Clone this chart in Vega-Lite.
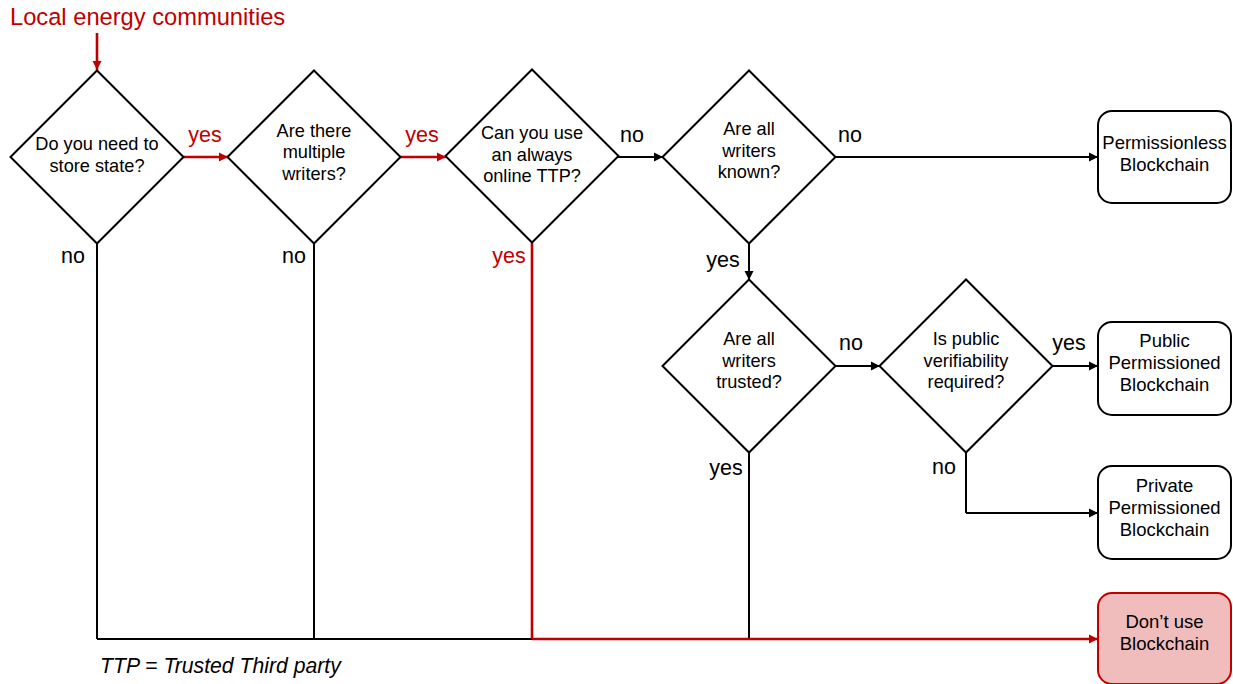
{
  "$schema": "https://vega.github.io/schema/vega-lite/v6.json",
  "width": 1233,
  "height": 684,
  "padding": 0,
  "autosize": {"type": "fit", "contains": "padding"},
  "background": "white",
  "config": {"view": {"stroke": null}, "text": {"font": "Liberation Sans"}},
  "datasets": {
    "edges": [
      {"x": 618, "y": 157, "x2": 663, "y2": 157, "route": "other"},
      {"x": 836, "y": 157, "x2": 1098, "y2": 157, "route": "other"},
      {"x": 749, "y": 243, "x2": 749, "y2": 280, "route": "other"},
      {"x": 835, "y": 366, "x2": 880, "y2": 366, "route": "other"},
      {"x": 1053, "y": 366, "x2": 1098, "y2": 366, "route": "other"},
      {"x": 966, "y": 453, "x2": 966, "y2": 513, "route": "other"},
      {"x": 966, "y": 513, "x2": 1098, "y2": 513, "route": "other"},
      {"x": 97, "y": 243, "x2": 97, "y2": 639, "route": "other"},
      {"x": 314, "y": 243, "x2": 314, "y2": 639, "route": "other"},
      {"x": 749, "y": 453, "x2": 749, "y2": 639, "route": "other"},
      {"x": 97, "y": 639, "x2": 532, "y2": 639, "route": "other"},
      {"x": 97, "y": 33, "x2": 97, "y2": 70, "route": "chosen"},
      {"x": 183, "y": 157, "x2": 228, "y2": 157, "route": "chosen"},
      {"x": 400, "y": 157, "x2": 446, "y2": 157, "route": "chosen"},
      {"x": 532, "y": 243, "x2": 532, "y2": 639, "route": "chosen"},
      {"x": 532, "y": 639, "x2": 1098, "y2": 639, "route": "chosen"}
    ],
    "arrows": [
      {"x": 97, "y": 70, "dir": "down", "route": "chosen"},
      {"x": 228, "y": 157, "dir": "right", "route": "chosen"},
      {"x": 446, "y": 157, "dir": "right", "route": "chosen"},
      {"x": 663, "y": 157, "dir": "right", "route": "other"},
      {"x": 1098, "y": 157, "dir": "right", "route": "other"},
      {"x": 749, "y": 280, "dir": "down", "route": "other"},
      {"x": 880, "y": 366, "dir": "right", "route": "other"},
      {"x": 1098, "y": 366, "dir": "right", "route": "other"},
      {"x": 1098, "y": 513, "dir": "right", "route": "other"},
      {"x": 1098, "y": 639, "dir": "right", "route": "chosen"}
    ],
    "diamonds": [
      {"x": 97, "y": 157, "ty": 145, "q": "Do you need to\nstore state?"},
      {"x": 314, "y": 157, "ty": 131.5, "q": "Are there\nmultiple\nwriters?"},
      {"x": 532, "y": 156, "ty": 134, "q": "Can you use\nan always\nonline TTP?"},
      {"x": 749, "y": 157, "ty": 130, "q": "Are all\nwriters\nknown?"},
      {"x": 749, "y": 366, "ty": 340, "q": "Are all\nwriters\ntrusted?"},
      {"x": 966, "y": 366, "ty": 340, "q": "Is public\nverifiability\nrequired?"}
    ],
    "boxes": [
      {"x": 1098, "x2": 1231, "y": 111, "y2": 203, "ty": 143, "route": "other", "label": "Permissionless\nBlockchain"},
      {"x": 1098, "x2": 1231, "y": 322, "y2": 415, "ty": 341, "route": "other", "label": "Public\nPermissioned\nBlockchain"},
      {"x": 1098, "x2": 1231, "y": 466, "y2": 559, "ty": 486, "route": "other", "label": "Private\nPermissioned\nBlockchain"},
      {"x": 1098, "x2": 1231, "y": 593, "y2": 684, "ty": 622, "route": "chosen", "label": "Don’t use\nBlockchain"}
    ],
    "branches": [
      {"x": 205, "y": 136, "label": "yes", "route": "chosen"},
      {"x": 422, "y": 136, "label": "yes", "route": "chosen"},
      {"x": 632, "y": 136, "label": "no", "route": "other"},
      {"x": 850, "y": 136, "label": "no", "route": "other"},
      {"x": 73, "y": 257, "label": "no", "route": "other"},
      {"x": 294, "y": 257, "label": "no", "route": "other"},
      {"x": 509, "y": 257, "label": "yes", "route": "chosen"},
      {"x": 723, "y": 261, "label": "yes", "route": "other"},
      {"x": 851, "y": 344, "label": "no", "route": "other"},
      {"x": 1069, "y": 344, "label": "yes", "route": "other"},
      {"x": 944, "y": 468, "label": "no", "route": "other"},
      {"x": 726, "y": 469, "label": "yes", "route": "other"}
    ],
    "title": [{"x": 10, "y": 18, "label": "Local energy communities"}],
    "note": [{"x": 100, "y": 667, "label": "TTP = Trusted Third party"}]
  },
  "layer": [
    {
      "data": {"name": "edges"},
      "transform": [{"filter": "datum.route === 'other'"}],
      "mark": {"type": "rule", "strokeWidth": 2, "color": "black"},
      "encoding": {
        "x": {"field": "x", "type": "quantitative", "scale": {"domain": [0, 1233], "nice": false, "zero": false}, "axis": null},
        "y": {"field": "y", "type": "quantitative", "scale": {"domain": [0, 684], "nice": false, "zero": false, "reverse": true}, "axis": null},
        "x2": {"field": "x2"},
        "y2": {"field": "y2"}
      }
    },
    {
      "data": {"name": "edges"},
      "transform": [{"filter": "datum.route === 'chosen'"}],
      "mark": {"type": "rule", "strokeWidth": 2.6, "color": "#c00000"},
      "encoding": {
        "x": {"field": "x", "type": "quantitative", "axis": null},
        "y": {"field": "y", "type": "quantitative", "axis": null},
        "x2": {"field": "x2"},
        "y2": {"field": "y2"}
      }
    },
    {
      "data": {"name": "diamonds"},
      "mark": {"type": "point", "shape": "diamond", "filled": false, "size": 29929, "strokeWidth": 2, "color": "black", "opacity": 1},
      "encoding": {
        "x": {"field": "x", "type": "quantitative", "axis": null},
        "y": {"field": "y", "type": "quantitative", "axis": null}
      }
    },
    {
      "data": {"name": "diamonds"},
      "mark": {"type": "text", "fontSize": 18.2, "lineBreak": "\n", "lineHeight": 21.5, "align": "center", "baseline": "middle", "color": "black"},
      "encoding": {
        "x": {"field": "x", "type": "quantitative", "axis": null},
        "y": {"field": "ty", "type": "quantitative", "axis": null},
        "text": {"field": "q"}
      }
    },
    {
      "data": {"name": "boxes"},
      "mark": {"type": "rect", "cornerRadius": 14, "strokeWidth": 2, "opacity": 1, "clip": true},
      "encoding": {
        "x": {"field": "x", "type": "quantitative", "axis": null},
        "x2": {"field": "x2"},
        "y": {"field": "y", "type": "quantitative", "axis": null},
        "y2": {"field": "y2"},
        "fill": {"field": "route", "type": "nominal", "scale": {"domain": ["chosen", "other"], "range": ["#f0bcbc", "white"]}, "legend": null},
        "stroke": {"field": "route", "type": "nominal", "scale": {"domain": ["chosen", "other"], "range": ["#c00000", "black"]}, "legend": null}
      }
    },
    {
      "data": {"name": "boxes"},
      "mark": {"type": "text", "fontSize": 18.5, "lineBreak": "\n", "lineHeight": 22, "align": "center", "baseline": "middle", "color": "black"},
      "encoding": {
        "x": {"datum": 1164.5, "type": "quantitative", "axis": null},
        "y": {"field": "ty", "type": "quantitative", "axis": null},
        "text": {"field": "label"}
      }
    },
    {
      "data": {"name": "arrows"},
      "transform": [{"filter": "datum.dir === 'right'"}],
      "mark": {"type": "point", "shape": "M0,0L-1,-0.5L-1,0.5Z", "filled": true, "size": 324, "opacity": 1, "strokeWidth": 0},
      "encoding": {
        "x": {"field": "x", "type": "quantitative", "axis": null},
        "y": {"field": "y", "type": "quantitative", "axis": null},
        "color": {"field": "route", "type": "nominal", "scale": {"domain": ["chosen", "other"], "range": ["#c00000", "black"]}, "legend": null}
      }
    },
    {
      "data": {"name": "arrows"},
      "transform": [{"filter": "datum.dir === 'down'"}],
      "mark": {"type": "point", "shape": "M0,0L-1,-0.5L-1,0.5Z", "angle": 90, "filled": true, "size": 324, "opacity": 1, "strokeWidth": 0},
      "encoding": {
        "x": {"field": "x", "type": "quantitative", "axis": null},
        "y": {"field": "y", "type": "quantitative", "axis": null},
        "color": {"field": "route", "type": "nominal", "scale": {"domain": ["chosen", "other"], "range": ["#c00000", "black"]}, "legend": null}
      }
    },
    {
      "data": {"name": "branches"},
      "mark": {"type": "text", "fontSize": 21.5, "align": "center", "baseline": "middle"},
      "encoding": {
        "x": {"field": "x", "type": "quantitative", "axis": null},
        "y": {"field": "y", "type": "quantitative", "axis": null},
        "text": {"field": "label"},
        "color": {"field": "route", "type": "nominal", "scale": {"domain": ["chosen", "other"], "range": ["#c00000", "black"]}, "legend": null}
      }
    },
    {
      "data": {"name": "title"},
      "mark": {"type": "text", "fontSize": 23.7, "align": "left", "baseline": "middle", "color": "#c00000"},
      "encoding": {
        "x": {"field": "x", "type": "quantitative", "axis": null},
        "y": {"field": "y", "type": "quantitative", "axis": null},
        "text": {"field": "label"}
      }
    },
    {
      "data": {"name": "note"},
      "mark": {"type": "text", "fontSize": 21.2, "fontStyle": "italic", "align": "left", "baseline": "middle", "color": "black"},
      "encoding": {
        "x": {"field": "x", "type": "quantitative", "axis": null},
        "y": {"field": "y", "type": "quantitative", "axis": null},
        "text": {"field": "label"}
      }
    }
  ]
}
